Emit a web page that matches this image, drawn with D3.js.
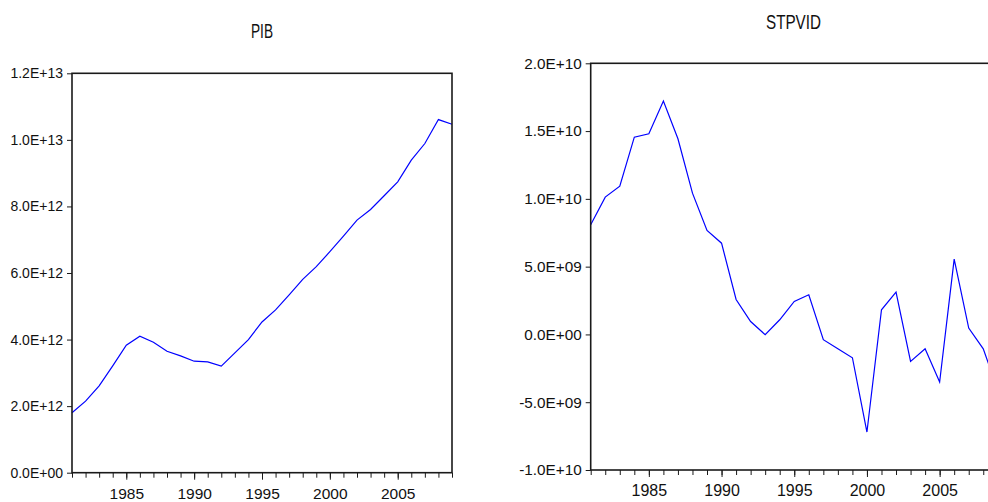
<!DOCTYPE html>
<html>
<head>
<meta charset="utf-8">
<script src="https://cdn.jsdelivr.net/npm/d3@7"></script>
<style>
    body { margin: 0; background: #fff; }
    svg text { font-family: "Liberation Sans Narrow", "Arial Narrow", sans-serif; fill: #111; }
    .frame { fill: none; stroke: #1a1a1a; stroke-width: 1.6; }
    .axis path { stroke: none; }
    .axis line { stroke: #1a1a1a; stroke-width: 1; }
    .series { fill: none; stroke: #0000ff; stroke-width: 1.2; }
</style>
</head>
<body>
<svg id="chart" width="988" height="502"></svg>
<script>
const years = d3.range(1981, 2010);
const labelYears = [1985, 1990, 1995, 2000, 2005];

// PIB, in units of 1E12
const pib = [1.80, 2.15, 2.61, 3.21, 3.83, 4.10, 3.92, 3.65, 3.51, 3.35,
             3.33, 3.20, 3.60, 4.00, 4.53, 4.89, 5.34, 5.81, 6.19, 6.64,
             7.11, 7.59, 7.91, 8.32, 8.74, 9.39, 9.89, 10.61, 10.47];

// STPVID, in units of 1E9
const stpvid = [8.09, 10.13, 10.94, 14.55, 14.80, 17.21, 14.43, 10.42, 7.67, 6.73,
                2.58, 0.95, -0.02, 1.08, 2.43, 2.93, -0.39, -1.06, -1.72, -7.20,
                1.82, 3.12, -1.99, -1.06, -3.51, 5.55, 0.47, -1.06, -4.1];

const pibTicks = [0, 2e12, 4e12, 6e12, 8e12, 1e13, 1.2e13];
const stpvidTicks = [-1e10, -5e9, 0, 5e9, 1e10, 1.5e10, 2e10];

function sciFormat(v) {
    if (v === 0) return '0.0E+00';
    const e = Math.floor(Math.log10(Math.abs(v)) + 1e-9);
    const m = v / Math.pow(10, e);
    return m.toFixed(1) + 'E' + (e < 0 ? '-' : '+') + String(Math.abs(e)).padStart(2, '0');
}

const svg = d3.select('#chart');

function panel(opts) {
    const x = d3.scaleLinear().domain([1981, 2009]).range([opts.left, opts.right]);
    const y = d3.scaleLinear().domain(opts.yDomain).range([opts.bottom, opts.top]);
    const g = svg.append('g');

    g.append('path')
        .datum(opts.values)
        .attr('class', 'series')
        .attr('d', d3.line().x((d, i) => x(years[i])).y(d => y(d * opts.unit)));

    g.append('rect')
        .attr('class', 'frame')
        .attr('x', opts.left)
        .attr('y', opts.top)
        .attr('width', opts.right - opts.left)
        .attr('height', opts.bottom - opts.top);

    g.append('g')
        .attr('class', 'axis')
        .attr('transform', 'translate(' + opts.left + ',0)')
        .call(d3.axisLeft(y).tickValues(opts.ticks).tickSize(5).tickPadding(4).tickFormat(sciFormat))
        .selectAll('text')
        .style('font-size', opts.yFont + 'px');

    g.append('g')
        .attr('class', 'axis')
        .attr('transform', 'translate(0,' + opts.bottom + ')')
        .call(d3.axisBottom(x).tickValues(years).tickSize(5).tickFormat(''));

    g.append('g')
        .attr('class', 'axis')
        .attr('transform', 'translate(0,' + opts.bottom + ')')
        .call(d3.axisBottom(x).tickValues(labelYears).tickSize(7).tickPadding(8).tickFormat(d3.format('d')))
        .selectAll('text')
        .style('font-size', opts.xFont + 'px');

    svg.append('text')
        .attr('x', opts.titleX)
        .attr('y', opts.titleY)
        .attr('text-anchor', 'middle')
        .attr('textLength', opts.titleW)
        .attr('lengthAdjust', 'spacingAndGlyphs')
        .style('font-size', '20px')
        .text(opts.title);
}

panel({
    title: 'PIB', titleX: 262, titleY: 38, titleW: 22,
    left: 72, right: 452, top: 73.3, bottom: 472.7,
    yDomain: [0, 1.2e13], ticks: pibTicks, values: pib, unit: 1e12,
    yFont: 14, xFont: 15.5
});

panel({
    title: 'STPVID', titleX: 793.5, titleY: 28.5, titleW: 55,
    left: 590.7, right: 997.8, top: 63.3, bottom: 470,
    yDomain: [-1e10, 2e10], ticks: stpvidTicks, values: stpvid, unit: 1e9,
    yFont: 15.3, xFont: 16
});
</script>
</body>
</html>
